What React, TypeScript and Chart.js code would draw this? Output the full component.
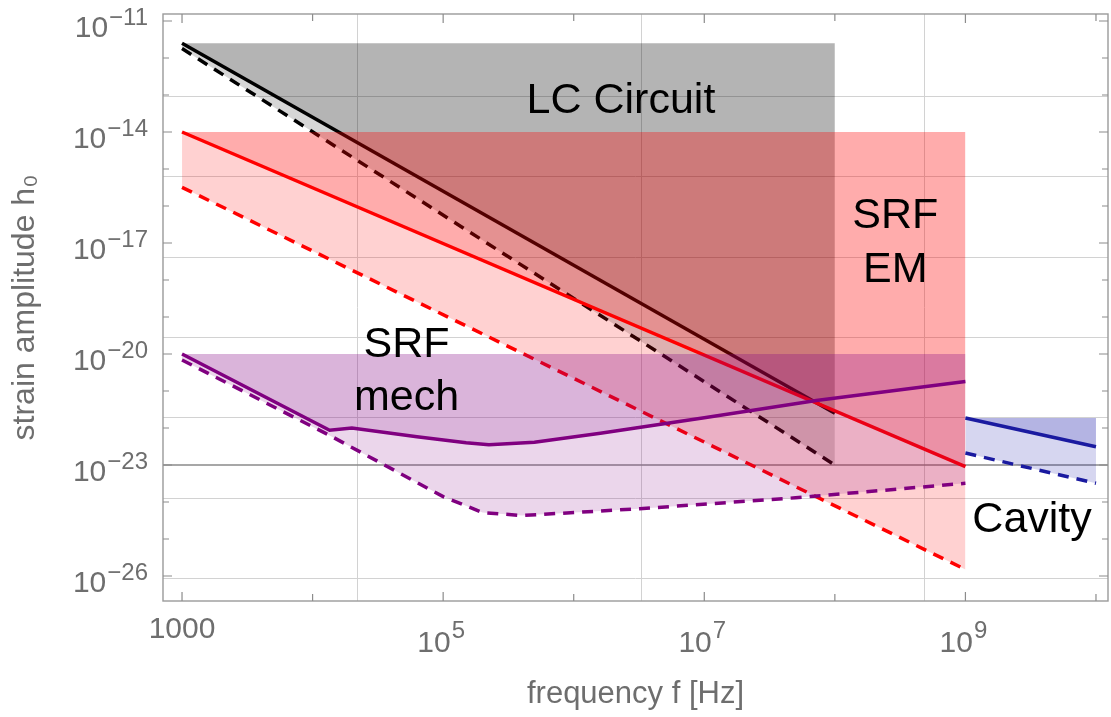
import React, { useEffect, useRef } from 'react';
import { Chart, registerables } from 'chart.js';

Chart.register(...registerables);

// ---------- data (frequency in Hz, strain amplitude h0) ----------
const lcFreq = [1e3, 1e8];
const lcTop = [2.5e-12, 2.5e-12];
const lcSolid = [2.5e-12, 2.5e-22];
const lcDashed = [1.8e-12, 1.0e-23];

const emFreq = [1e3, 1e9];
const emTop = [1e-14, 1e-14];
const emSolid = [1e-14, 9e-24];
const emDashed = [3.2e-16, 1.5e-26];

const mechTopFreq = [1e3, 1e9];
const mechTop = [1e-20, 1e-20];
const mechSolidFreq = [1000, 13500, 20000, 63000, 150000, 224000, 500000, 1.6e6, 1e7, 7.2e7, 1e9];
const mechSolid = [1.0e-20, 8.7e-23, 1.0e-22, 5.8e-23, 4.0e-23, 3.5e-23, 4.1e-23, 7.2e-23, 1.9e-22, 5.5e-22, 1.8e-21];
const mechDashedFreq = [1000, 13500, 1e5, 2e5, 4e5, 3.2e6, 5e7, 1e9];
const mechDashed = [6.9e-21, 6.3e-23, 1.4e-24, 5.2e-25, 4.3e-25, 6.6e-25, 1.3e-24, 3.2e-24];

const cavFreq = [1e9, 1e10];
const cavTop = [1.86e-22, 1.86e-22];
const cavSolid = [1.86e-22, 3.1e-23];
const cavDashed = [2.1e-23, 3.2e-24];

// ---------- axes ----------
const xMin = 715;
const xMax = 1.236e10;
const yMin = 2.11e-27;
const yMax = 1.545e-11;

const xTickValues = [1e3, 1e4, 1e5, 1e6, 1e7, 1e8, 1e9, 1e10];
const xLabelValues = [1e3, 1e5, 1e7, 1e9];
const xLabelBase = ['1000', '10', '10', '10'];
const xLabelExp = ['', '5', '7', '9'];

const yTickValues = [1e-11, 1e-12, 1e-13, 1e-14, 1e-15, 1e-16, 1e-17, 1e-18, 1e-19, 1e-20, 1e-21, 1e-22, 1e-23, 1e-24, 1e-25, 1e-26];
const yLabelValues = [1e-11, 1e-14, 1e-17, 1e-20, 1e-23, 1e-26];
const yLabelExp = ['\u221211', '\u221214', '\u221217', '\u221220', '\u221223', '\u221226'];

const xGridValues = [22026, 3.269e6, 4.852e8];
const yGridValues = [9.358e-14, 6.305e-16, 4.248e-18, 2.862e-20, 1.929e-22, 1.3e-24, 8.757e-27];
const yRefValues = [1e-23];

// ---------- annotations ----------
const noteText = ['LC Circuit', 'SRF', 'EM', 'SRF', 'mech', 'Cavity'];
const noteFreq = [2.3e6, 2.9e8, 2.9e8, 5.25e4, 5.25e4, 3.24e9];
const noteH = [3.2e-14, 2.55e-17, 8.8e-19, 8.3e-21, 3.06e-22, 1.55e-25];

const FONT = '"Liberation Sans", Arial, Helvetica, sans-serif';
const AXIS_GREY = '#6e6e6e';

function pts(xs: number[], ys: number[]) {
  return xs.map((x, i) => ({ x, y: ys[i] }));
}

export default function App() {
  const ref = useRef<HTMLCanvasElement>(null);

  useEffect(() => {
    const canvas = ref.current;
    if (!canvas) return;

    const decor = {
      id: 'decor',
      beforeDatasetsDraw(chart: any) {
        const { ctx, chartArea: a, scales } = chart;
        const xs = scales.x;
        const ys = scales.y;
        ctx.save();
        ctx.lineWidth = 1;
        ctx.strokeStyle = '#d2d2d2';
        xGridValues.forEach((v) => {
          const p = Math.round(xs.getPixelForValue(v)) + 0.5;
          ctx.beginPath();
          ctx.moveTo(p, a.top);
          ctx.lineTo(p, a.bottom);
          ctx.stroke();
        });
        yGridValues.forEach((v) => {
          const p = Math.round(ys.getPixelForValue(v)) + 0.5;
          ctx.beginPath();
          ctx.moveTo(a.left, p);
          ctx.lineTo(a.right, p);
          ctx.stroke();
        });
        ctx.strokeStyle = '#8a8a8a';
        ctx.lineWidth = 1.5;
        yRefValues.forEach((v) => {
          const p = ys.getPixelForValue(v);
          ctx.beginPath();
          ctx.moveTo(a.left, p);
          ctx.lineTo(a.right, p);
          ctx.stroke();
        });
        ctx.restore();
      },
      afterDatasetsDraw(chart: any) {
        const { ctx, chartArea: a, scales } = chart;
        const xs = scales.x;
        const ys = scales.y;
        ctx.save();
        // frame
        ctx.strokeStyle = '#9a9a9a';
        ctx.lineWidth = 1.4;
        ctx.strokeRect(a.left, a.top, a.right - a.left, a.bottom - a.top);
        // ticks
        ctx.strokeStyle = '#8c8c8c';
        ctx.lineWidth = 1.2;
        yTickValues.forEach((v) => {
          const p = ys.getPixelForValue(v);
          const len = yLabelValues.includes(v) ? 9 : 6;
          ctx.beginPath();
          ctx.moveTo(a.left, p);
          ctx.lineTo(a.left + len, p);
          ctx.moveTo(a.right, p);
          ctx.lineTo(a.right - len, p);
          ctx.stroke();
        });
        xTickValues.forEach((v) => {
          const p = xs.getPixelForValue(v);
          const len = xLabelValues.includes(v) ? 9 : 7;
          ctx.beginPath();
          ctx.moveTo(p, a.bottom);
          ctx.lineTo(p, a.bottom - len);
          ctx.moveTo(p, a.top);
          ctx.lineTo(p, a.top + len);
          ctx.stroke();
        });
        // y tick labels
        ctx.fillStyle = AXIS_GREY;
        ctx.textBaseline = 'alphabetic';
        yLabelValues.forEach((v, i) => {
          const p = ys.getPixelForValue(v);
          const right = a.left - 15;
          ctx.font = `24px ${FONT}`;
          const ew = ctx.measureText(yLabelExp[i]).width;
          ctx.textAlign = 'right';
          ctx.fillText(yLabelExp[i], right, p + 4);
          ctx.font = `30px ${FONT}`;
          ctx.fillText('10', right - ew - 1, p + 16.5);
        });
        // x tick labels
        xLabelValues.forEach((v, i) => {
          const p = xs.getPixelForValue(v);
          ctx.textAlign = 'left';
          if (!xLabelExp[i]) {
            ctx.font = `30px ${FONT}`;
            const w = ctx.measureText(xLabelBase[i]).width;
            ctx.fillText(xLabelBase[i], p - w / 2, a.bottom + 37);
          } else {
            ctx.font = `30px ${FONT}`;
            const bw = ctx.measureText(xLabelBase[i]).width;
            ctx.font = `24px ${FONT}`;
            const ew = ctx.measureText(xLabelExp[i]).width;
            const start = p - (bw + ew + 1) / 2 - 2;
            ctx.font = `30px ${FONT}`;
            ctx.fillText(xLabelBase[i], start, a.bottom + 51);
            ctx.font = `24px ${FONT}`;
            ctx.fillText(xLabelExp[i], start + bw + 1, a.bottom + 37);
          }
        });
        // annotations
        ctx.fillStyle = '#000';
        ctx.font = `43px ${FONT}`;
        ctx.textAlign = 'center';
        noteText.forEach((t, i) => {
          ctx.fillText(t, xs.getPixelForValue(noteFreq[i]), ys.getPixelForValue(noteH[i]));
        });
        ctx.restore();
      },
    };

    const hidden = (data: any, order: number) => ({
      data,
      borderWidth: 0,
      borderColor: 'rgba(0,0,0,0)',
      pointRadius: 0,
      fill: false,
      order,
    });
    const line = (data: any, color: string, fillTarget: number, fillColor: string, dashed: boolean, order: number) => ({
      data,
      borderColor: color,
      borderWidth: 3.5,
      borderDash: dashed ? [11, 8] : [],
      pointRadius: 0,
      tension: 0,
      fill: fillTarget,
      backgroundColor: fillColor,
      order,
    });

    const chart = new Chart(canvas, {
      type: 'line',
      data: {
        datasets: [
          hidden(pts(lcFreq, lcTop), 50) as any,
          line(pts(lcFreq, lcDashed), '#000000', 0, 'rgba(0,0,0,0.16)', true, 41),
          line(pts(lcFreq, lcSolid), '#000000', 0, 'rgba(0,0,0,0.16)', false, 40),
          hidden(pts(emFreq, emTop), 50),
          line(pts(emFreq, emDashed), '#ff0000', 3, 'rgba(255,0,0,0.18)', true, 31),
          line(pts(emFreq, emSolid), '#ff0000', 3, 'rgba(255,0,0,0.18)', false, 30),
          hidden(pts(mechTopFreq, mechTop), 50),
          line(pts(mechDashedFreq, mechDashed), '#800080', 6, 'rgba(128,0,128,0.16)', true, 21),
          line(pts(mechSolidFreq, mechSolid), '#800080', 6, 'rgba(128,0,128,0.16)', false, 20),
          hidden(pts(cavFreq, cavTop), 50),
          line(pts(cavFreq, cavDashed), '#1a1aa0', 9, 'rgba(0,0,160,0.16)', true, 11),
          line(pts(cavFreq, cavSolid), '#1a1aa0', 9, 'rgba(0,0,160,0.16)', false, 10),
        ],
      },
      options: {
        animation: false,
        responsive: false,
        maintainAspectRatio: false,
        devicePixelRatio: 1,
        layout: { padding: { top: 14, right: 3, left: 0, bottom: 0 } },
        plugins: {
          legend: { display: false },
          tooltip: { enabled: false },
        },
        scales: {
          x: {
            type: 'logarithmic',
            min: xMin,
            max: xMax,
            grid: { display: false },
            border: { display: false },
            ticks: { display: false },
            title: {
              display: true,
              text: 'frequency f [Hz]',
              color: AXIS_GREY,
              font: { family: FONT, size: 31 },
              padding: { top: 0, bottom: 4 },
            },
            afterFit(s: any) {
              s.height = 116;
            },
          },
          y: {
            type: 'logarithmic',
            min: yMin,
            max: yMax,
            grid: { display: false },
            border: { display: false },
            ticks: { display: false },
            title: {
              display: true,
              text: 'strain amplitude h\u2080',
              color: AXIS_GREY,
              font: { family: FONT, size: 32 },
              padding: { top: 6, bottom: 0 },
            },
            afterFit(s: any) {
              s.width = 163;
            },
          },
        },
      } as any,
      plugins: [decor],
    });

    return () => chart.destroy();
  }, []);

  return (
    <div style={{ position: 'fixed', left: 0, top: 0, width: 1111, height: 717, background: '#ffffff' }}>
      <canvas ref={ref} width={1111} height={717} style={{ display: 'block' }} />
    </div>
  );
}
